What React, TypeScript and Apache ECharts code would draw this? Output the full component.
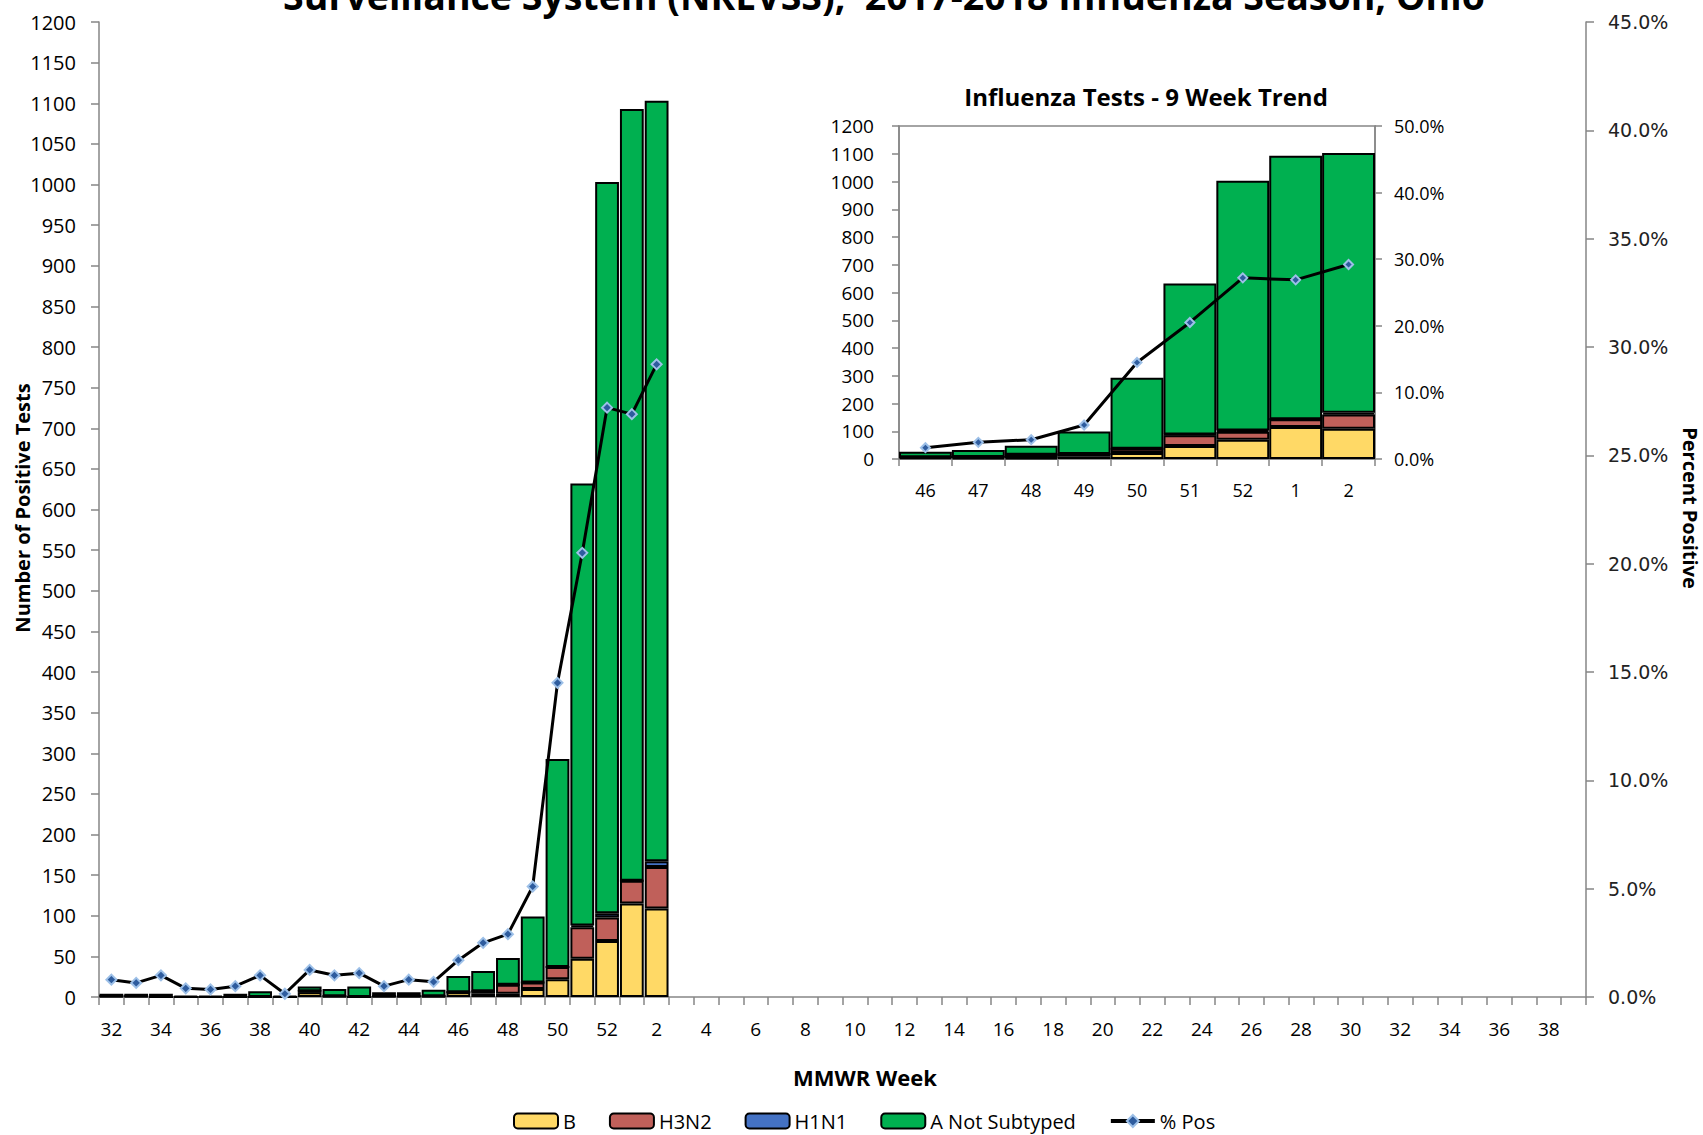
import React, { useEffect, useRef } from "react";
import * as echarts from "echarts";

// ---- Data ----
const weeks: string[] = [
  "32","33","34","35","36","37","38","39","40","41","42","43","44","45","46","47","48","49","50","51","52",
  "1","2","3","4","5","6","7","8","9","10","11","12","13","14","15","16","17","18","19","20",
  "21","22","23","24","25","26","27","28","29","30","31","32","33","34","35","36","37","38","39",
];

// weeks 32 (2017) .. 2 (2018); later weeks have no data yet
const bValues: number[] = [1, 1, 0, 0, 0, 0, 0, 0, 6, 1, 0, 1, 1, 1, 6, 4, 4, 10, 22, 47, 69, 115, 109];
const h3n2Values: number[] = [0, 0, 0, 0, 0, 0, 0, 0, 1, 0, 0, 0, 0, 0, 0, 3, 11, 8, 15, 39, 29, 28, 51];
const h1n1Values: number[] = [0, 0, 0, 0, 0, 0, 0, 0, 0, 0, 0, 0, 0, 0, 0, 0, 0, 0, 0, 2, 5, 0, 7];
const aNotSubtypedValues: number[] = [3, 3, 4, 1, 1, 4, 7, 1, 6, 9, 13, 5, 5, 8, 20, 25, 33, 81, 256, 544, 900, 950, 936];
const pctPosValues: number[] = [0.8, 0.65, 1.0, 0.4, 0.35, 0.5, 1.0, 0.15, 1.25, 1.0, 1.1, 0.5, 0.8, 0.7, 1.7, 2.5, 2.9, 5.1, 14.5, 20.5, 27.2, 26.9, 29.2];

const insetStart = 14; // week 46
const insetEnd = 23; // through week 2

const pad = (arr: number[]): (number | null)[] =>
  weeks.map((_, i) => (i < arr.length ? arr[i] : null));

const FONT = "Open Sans";
const AXIS_COLOR = "#868686";
const COLORS = {
  b: "#FFD966",
  h3n2: "#C0605A",
  h1n1: "#4472C4",
  a: "#00B050",
};

export default function App() {
  const ref = useRef<HTMLDivElement>(null);

  useEffect(() => {
    if (!ref.current) return;
    const chart = echarts.init(ref.current, undefined, { renderer: "svg" });

    const barSeries = (
      name: string,
      data: (number | null)[],
      color: string,
      xi: number,
      yi: number,
      stack: string,
      bw: number,
      gap: string
    ) => ({
      name,
      type: "bar",
      stack,
      xAxisIndex: xi,
      yAxisIndex: yi,
      data,
      barCategoryGap: gap,
      itemStyle: { color, borderColor: "#000", borderWidth: bw },
    });

    const lineSeries = (data: (number | null)[], xi: number, yi: number, size: number) => ({
      name: "% Pos",
      type: "line",
      xAxisIndex: xi,
      yAxisIndex: yi,
      data,
      symbol: "diamond",
      symbolSize: size,
      z: 5,
      lineStyle: { color: "#000", width: 3 },
      itemStyle: { color: "#2E5C9E", borderColor: "#9DC0E8", borderWidth: 2 },
    });

    const insetWeeks = weeks.slice(insetStart, insetEnd);
    const sl = (arr: number[]) => arr.slice(insetStart, insetEnd);

    const plain = (v: number) => String(v);
    const pct = (v: number) => v.toFixed(1) + "%";

    const txt = (
      text: string,
      x: number,
      y: number,
      fontSize: number,
      rotation = 0
    ) => ({
      type: "text",
      x,
      y,
      rotation,
      style: {
        text,
        fontFamily: FONT,
        fontWeight: "bold",
        fontSize,
        fill: "#000",
        align: "center",
        verticalAlign: "middle",
      },
    });

    const option: any = {
      animation: false,
      textStyle: { fontFamily: FONT },
      graphic: [
        txt("Surveillance System (NREVSS),  2017-2018 Influenza Season, Ohio", 884, -5, 37.5),
        txt("MMWR Week", 865, 1077, 22),
        txt("Number of Positive Tests", 22, 508, 20, Math.PI / 2),
        txt("Percent Positive", 1690, 508, 20, -Math.PI / 2),
        txt("Influenza Tests - 9 Week Trend", 1146, 96, 24),
      ],
      legend: {
        left: 508,
        top: 1106,
        itemWidth: 44,
        itemHeight: 15,
        itemGap: 33,
        textStyle: { fontFamily: FONT, fontSize: 20, color: "#000" },
        data: [
          "B",
          "H3N2",
          "H1N1",
          "A Not Subtyped",
          { name: "% Pos", lineStyle: { width: 4, color: "#000" } },
        ],
      },
      grid: [
        { left: 99, top: 22, width: 1487, height: 975, containLabel: false },
        {
          left: 899,
          top: 126,
          width: 476,
          height: 333,
          show: true,
          backgroundColor: "#fff",
          borderColor: AXIS_COLOR,
          borderWidth: 1.5,
          containLabel: false,
        },
      ],
      xAxis: [
        {
          type: "category",
          gridIndex: 0,
          data: weeks,
          axisLine: { lineStyle: { color: AXIS_COLOR, width: 1.5 } },
          axisTick: { show: true, interval: 0, length: 8, lineStyle: { color: AXIS_COLOR, width: 1.5 } },
          axisLabel: { interval: 1, margin: 22, fontSize: 19, color: "#000", fontFamily: FONT },
        },
        {
          type: "category",
          gridIndex: 1,
          data: insetWeeks,
          axisLine: { lineStyle: { color: AXIS_COLOR, width: 1.5 } },
          axisTick: { show: true, interval: 0, length: 7, lineStyle: { color: AXIS_COLOR, width: 1.5 } },
          axisLabel: { interval: 0, margin: 22, fontSize: 18, color: "#000", fontFamily: FONT },
        },
      ],
      yAxis: [
        {
          type: "value",
          gridIndex: 0,
          min: 0,
          max: 1200,
          interval: 50,
          splitLine: { show: false },
          axisLine: { show: true, lineStyle: { color: AXIS_COLOR, width: 1.5 } },
          axisTick: { show: true, length: 8, lineStyle: { color: AXIS_COLOR, width: 1.5 } },
          axisLabel: { margin: 23, fontSize: 20, color: "#000", fontFamily: FONT, formatter: plain },
        },
        {
          type: "value",
          gridIndex: 0,
          position: "right",
          min: 0,
          max: 45,
          interval: 5,
          splitLine: { show: false },
          axisLine: { show: true, lineStyle: { color: AXIS_COLOR, width: 1.5 } },
          axisTick: { show: true, length: 8, lineStyle: { color: AXIS_COLOR, width: 1.5 } },
          axisLabel: {
            margin: 22,
            fontSize: 19,
            color: "#222",
            fontFamily: "DejaVu Sans",
            formatter: pct,
          },
        },
        {
          type: "value",
          gridIndex: 1,
          min: 0,
          max: 1200,
          interval: 100,
          splitLine: { show: false },
          axisLine: { show: true, lineStyle: { color: AXIS_COLOR, width: 1.5 } },
          axisTick: { show: true, length: 7, lineStyle: { color: AXIS_COLOR, width: 1.5 } },
          axisLabel: { margin: 25, fontSize: 19, color: "#000", fontFamily: FONT, formatter: plain },
        },
        {
          type: "value",
          gridIndex: 1,
          position: "right",
          min: 0,
          max: 50,
          interval: 10,
          splitLine: { show: false },
          axisLine: { show: true, lineStyle: { color: AXIS_COLOR, width: 1.5 } },
          axisTick: { show: true, length: 7, lineStyle: { color: AXIS_COLOR, width: 1.5 } },
          axisLabel: {
            margin: 19,
            fontSize: 18,
            color: "#000",
            fontFamily: FONT,
            formatter: pct,
          },
        },
      ],
      series: [
        barSeries("B", pad(bValues), COLORS.b, 0, 0, "main", 2, "4%"),
        barSeries("H3N2", pad(h3n2Values), COLORS.h3n2, 0, 0, "main", 2, "4%"),
        barSeries("H1N1", pad(h1n1Values), COLORS.h1n1, 0, 0, "main", 2, "4%"),
        barSeries("A Not Subtyped", pad(aNotSubtypedValues), COLORS.a, 0, 0, "main", 2, "4%"),
        lineSeries(pad(pctPosValues), 0, 1, 10),
        barSeries("B", sl(bValues), COLORS.b, 1, 2, "inset", 2, "0%"),
        barSeries("H3N2", sl(h3n2Values), COLORS.h3n2, 1, 2, "inset", 2, "0%"),
        barSeries("H1N1", sl(h1n1Values), COLORS.h1n1, 1, 2, "inset", 2, "0%"),
        barSeries("A Not Subtyped", sl(aNotSubtypedValues), COLORS.a, 1, 2, "inset", 2, "0%"),
        lineSeries(sl(pctPosValues), 1, 3, 9),
      ],
    };

    chart.setOption(option);
    return () => chart.dispose();
  }, []);

  return <div ref={ref} style={{ width: 1703, height: 1135, position: "absolute", left: 0, top: 0 }} />;
}
